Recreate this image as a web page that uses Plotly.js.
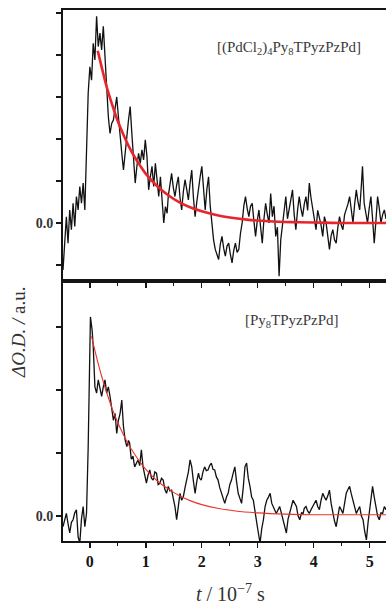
<!DOCTYPE html>
<html>
<head>
<meta charset="utf-8">
<script src="https://cdn.plot.ly/plotly-3.0.1.min.js"></script>
<style>html,body{margin:0;padding:0;background:#fff;overflow:hidden;}#chart{width:386px;height:604px;}</style>
</head>
<body>
<div id="chart"></div>
<script>
// ---- Top panel: [(PdCl2)4Py8TPyzPzPd] ----
var topT = [-0.48,-0.45,-0.42,-0.39,-0.36,-0.33,-0.30,-0.27,-0.24,-0.21,-0.18,-0.15,-0.12,-0.09,-0.06,-0.03,0.00,0.03,0.06,0.09,0.12,0.15,0.18,0.21,0.24,0.27,0.30,0.33,0.36,0.39,0.42,0.45,0.48,0.51,0.54,0.57,0.60,0.63,0.66,0.69,0.72,0.75,0.78,0.81,0.84,0.87,0.90,0.93,0.96,0.99,1.02,1.05,1.08,1.11,1.14,1.17,1.20,1.23,1.26,1.29,1.32,1.35,1.38,
1.40,1.43,1.46,1.49,1.52,1.55,1.58,1.61,1.64,1.67,1.70,1.73,1.76,1.79,1.82,1.85,1.88,1.91,1.94,1.97,2.00,2.03,2.06,2.09,2.12,2.15,2.18,2.21,2.24,2.27,2.30,2.33,2.36,2.39,2.42,2.45,2.48,2.51,2.54,2.57,2.60,2.63,2.66,2.69,2.72,2.75,2.78,2.81,2.84,2.87,2.90,2.93,2.96,2.99,3.02,3.05,3.08,3.11,3.14,3.17,3.20,
3.23,3.26,3.29,3.32,3.35,3.38,3.41,3.44,3.47,3.50,3.53,3.56,3.59,3.62,3.65,3.68,3.71,3.74,3.77,3.80,3.83,3.86,3.89,3.92,3.95,3.98,4.01,4.04,4.07,4.10,4.13,4.16,4.19,4.22,4.25,4.28,4.31,4.34,4.37,4.40,4.43,4.46,4.49,4.52,4.55,4.58,4.61,4.64,4.67,4.70,4.73,4.76,4.79,4.82,4.85,4.87,4.90,4.93,4.96,4.99,5.02,5.05,5.08,5.11,5.14,5.17,5.20,5.23,5.26,5.29,5.32];
var topSignal = [-1.12,-0.32,0.15,-0.48,0.31,-0.16,0.47,-0.08,0.63,0.31,0.87,0.47,0.95,0.31,1.58,3.09,3.72,3.40,4.28,3.88,4.92,4.20,4.52,4.12,4.68,3.96,3.09,2.53,2.13,2.37,2.45,2.77,3.00,2.53,1.98,1.66,1.26,1.74,2.05,2.45,2.77,2.13,1.42,0.95,1.35,1.66,1.42,1.74,1.50,1.98,1.58,0.79,1.10,1.35,0.87,1.42,1.03,0.63,1.10,0.47,0.00,0.39,0.23,
0.63,0.95,1.18,0.85,0.63,0.90,1.10,0.60,0.31,0.75,1.03,0.80,0.55,0.95,1.26,0.60,0.15,0.50,0.87,1.10,1.35,0.70,0.31,0.80,1.10,0.40,-0.08,-0.40,-0.63,-0.75,-0.87,-0.50,-0.32,-0.60,-0.79,-0.55,-0.48,-0.75,-0.95,-0.65,-0.48,-0.70,-0.63,-0.25,0.00,0.40,0.63,0.35,0.15,0.40,0.47,0.05,-0.32,0.05,0.31,-0.10,-0.48,0.10,0.47,0.20,0.00,
0.70,0.15,0.40,-0.32,-0.10,-1.27,-0.40,0.00,0.35,0.63,0.10,0.31,0.55,0.79,0.20,-0.16,0.30,0.63,0.35,0.15,0.45,0.63,0.30,0.95,0.60,0.31,0.05,-0.16,0.30,0.15,-0.05,-0.32,0.15,0.00,-0.35,-0.63,-0.30,-0.16,-0.40,-0.48,-0.10,0.15,-0.05,-0.16,0.20,0.31,0.45,0.63,0.25,0.00,0.45,0.79,0.50,0.31,0.90,1.35,0.47,0.20,0.00,0.35,0.63,0.10,-0.48,0.05,0.63,0.35,0.00,0.20,0.31,0.10,0.25];
var topFitT = [0.14,0.20,0.30,0.40,0.50,0.60,0.70,0.80,0.90,1.00,1.20,1.40,1.60,1.80,2.00,2.20,2.50,2.80,3.20,3.60,4.00,4.50,5.00,5.40];
var topFit = [4.10,3.77,3.24,2.81,2.42,2.10,1.81,1.57,1.36,1.17,0.88,0.66,0.49,0.37,0.28,0.21,0.13,0.08,0.04,0.02,0.01,0.00,0.00,0.00];

// ---- Bottom panel: [Py8TPyzPzPd] ----
var botT = [-0.48,-0.45,-0.42,-0.39,-0.36,-0.33,-0.30,-0.27,-0.24,-0.21,-0.18,-0.15,-0.12,-0.09,-0.06,-0.03,-0.01,0.01,0.04,0.06,0.09,0.12,0.15,0.18,0.21,0.24,0.27,0.30,0.33,0.36,0.39,0.42,0.45,0.48,0.51,0.54,0.57,0.60,0.63,0.66,0.69,0.71,0.74,0.77,0.80,0.83,0.86,0.89,0.92,0.95,0.98,1.01,1.04,1.07,1.10,1.13,1.16,1.19,1.22,1.25,1.28,1.31,1.34,1.37,1.40,1.43,
1.46,1.49,1.52,1.55,1.58,1.61,1.64,1.67,1.70,1.73,1.76,1.79,1.82,1.85,1.88,1.91,1.94,1.96,1.99,2.02,2.05,2.08,2.11,2.14,2.17,2.20,2.23,2.26,2.29,2.32,2.35,2.38,2.41,2.44,2.47,2.50,2.53,2.56,2.59,2.62,2.65,2.68,2.71,2.74,2.77,2.80,2.83,2.86,2.89,2.92,2.95,2.98,3.01,3.04,3.07,3.10,3.13,3.16,3.19,3.22,3.25,3.27,
3.30,3.33,3.36,3.39,3.42,3.45,3.48,3.51,3.54,3.57,3.60,3.63,3.66,3.69,3.72,3.75,3.78,3.81,3.83,3.86,3.89,3.92,3.95,3.98,4.01,4.04,4.07,4.10,4.13,4.16,4.19,4.22,4.25,4.28,4.31,4.34,4.37,4.40,4.43,4.46,4.49,4.52,4.55,4.58,4.61,4.64,4.67,4.70,4.73,4.76,4.79,4.82,4.85,4.88,4.91,4.94,4.97,4.99,5.02,5.05,5.08,5.11,5.14,5.17,5.20,5.23,5.26,5.29,5.32];
var botSignal = [-0.17,-0.05,0.04,-0.12,-0.27,-0.10,-0.06,0.05,0.10,-0.33,-0.43,-0.05,0.15,-0.17,0.04,1.10,2.16,3.16,2.95,2.69,2.05,1.95,2.16,2.00,1.90,2.05,2.16,1.95,2.05,1.90,1.74,1.52,1.63,1.31,1.52,1.63,1.84,1.42,1.21,1.10,1.20,1.16,0.90,0.95,0.78,0.85,0.89,0.80,1.05,0.78,0.62,0.52,0.65,0.73,0.60,0.57,0.70,0.68,0.50,0.52,0.60,0.57,0.42,0.36,0.47,0.40,
0.41,0.30,0.15,-0.06,0.20,0.36,0.25,0.31,0.45,0.57,0.70,0.89,0.78,0.55,0.36,0.55,0.68,0.60,0.57,0.70,0.78,0.72,0.73,0.80,0.84,0.74,0.73,0.62,0.57,0.45,0.36,0.28,0.20,0.30,0.36,0.50,0.57,0.68,0.78,0.55,0.36,0.28,0.20,0.45,0.78,0.84,0.60,0.47,0.30,0.25,0.04,-0.10,-0.27,-0.43,-0.20,-0.06,0.15,0.25,0.30,0.36,0.20,0.15,
0.10,0.04,0.10,0.15,0.05,-0.06,-0.15,-0.27,-0.05,0.04,0.15,0.25,0.20,0.15,0.00,-0.06,0.05,0.04,0.12,0.15,0.08,0.04,0.10,0.15,0.22,0.25,0.15,0.10,0.25,0.36,0.30,0.25,0.32,0.41,0.20,0.04,-0.08,-0.17,0.00,0.15,0.10,0.04,0.20,0.36,0.42,0.47,0.35,0.25,0.12,0.04,0.10,0.15,0.00,-0.06,-0.25,-0.38,-0.10,0.04,0.25,0.47,0.30,0.15,0.00,-0.06,0.05,0.04,0.15,0.10,0.20];
var botFitT = [0.03,0.10,0.20,0.30,0.40,0.50,0.60,0.70,0.80,0.90,1.00,1.20,1.40,1.60,1.80,2.00,2.30,2.60,3.00,3.50,4.00,4.50,5.00,5.40];
var botFit = [2.85,2.59,2.25,1.96,1.70,1.48,1.29,1.12,0.98,0.85,0.74,0.56,0.43,0.32,0.24,0.18,0.12,0.08,0.05,0.03,0.02,0.02,0.02,0.02];

var xTickVals = [0,1,2,3,4,5];
var xTickText = ['<b>0</b>','<b>1</b>','<b>2</b>','<b>3</b>','<b>4</b>','<b>5</b>'];
var yTickVals = [0];
var yTickText = ['<b>0.0</b>'];

var serif = '"Liberation Serif", "Times New Roman", serif';
var ink = '#151515';

var traces = [
  {x: topT, y: topSignal, xaxis:'x', yaxis:'y', mode:'lines', line:{color:'#111', width:1.3}, hoverinfo:'skip'},
  {x: topFitT, y: topFit, xaxis:'x', yaxis:'y', mode:'lines', line:{color:'#e8242c', width:2.6, shape:'spline'}, hoverinfo:'skip'},
  {x: botT, y: botSignal, xaxis:'x2', yaxis:'y2', mode:'lines', line:{color:'#111', width:1.3}, hoverinfo:'skip'},
  {x: botFitT, y: botFit, xaxis:'x2', yaxis:'y2', mode:'lines', line:{color:'#e8342c', width:1.1, shape:'spline'}, hoverinfo:'skip'}
];

var split = 260/531;
var xCommon = {range:[-0.48,5.29], showgrid:false, zeroline:false, showline:true, linecolor:ink, linewidth:2,
  tickmode:'array', tickvals:xTickVals, ticks:'outside', ticklen:5, tickwidth:1.3, tickcolor:ink,
  minor:{tickmode:'linear', dtick:0.5, tick0:0, ticks:'outside', ticklen:3, tickwidth:1, tickcolor:ink, showgrid:false}};
var yCommon = {showgrid:false, zeroline:false, showline:true, linecolor:ink, linewidth:2,
  tickmode:'array', tickvals:yTickVals, ticktext:yTickText,
  ticks:'outside', ticklen:5, tickwidth:1.3, tickcolor:ink, tickfont:{family:serif, size:14, color:'#333'},
  minor:{tickmode:'linear', tick0:0, dtick:1, ticks:'outside', ticklen:5, tickwidth:1.3, tickcolor:ink, showgrid:false}};

var layout = {
  width:386, height:604,
  margin:{l:63, r:0, t:10, b:63},
  paper_bgcolor:'#fff', plot_bgcolor:'#fff',
  showlegend:false,
  xaxis: Object.assign({}, xCommon, {anchor:'y', domain:[0,1], showticklabels:false, mirror:true}),
  xaxis2: Object.assign({}, xCommon, {anchor:'y2', domain:[0,1], mirror:true, ticktext:xTickText,
    tickfont:{family:serif, size:16, color:ink}}),
  yaxis: Object.assign({}, yCommon, {anchor:'x', domain:[split,1], range:[-1.381,5.07]}),
  yaxis2: Object.assign({}, yCommon, {anchor:'x2', domain:[0,split], range:[-0.397,3.73]}),
  annotations:[
    {xref:'paper', yref:'paper', x:0.70, y:0.928, xanchor:'center', yanchor:'middle', showarrow:false,
     text:'[(PdCl<sub>2</sub>)<sub>4</sub>Py<sub>8</sub>TPyzPzPd]', font:{family:serif, size:15, color:'#3a3a3a'}},
    {xref:'paper', yref:'paper', x:0.709, y:0.414, xanchor:'center', yanchor:'middle', showarrow:false,
     text:'[Py<sub>8</sub>TPyzPzPd]', font:{family:serif, size:15, color:'#3a3a3a'}},
    {xref:'paper', yref:'paper', x:-0.136, y:0.392, xanchor:'center', yanchor:'middle', showarrow:false, textangle:-90,
     text:'<i>ΔO.D. /</i> a.u.', font:{family:serif, size:19, color:'#333'}},
    {xref:'paper', yref:'paper', x:0.52, y:-0.098, xanchor:'center', yanchor:'middle', showarrow:false,
     text:'<i>t</i> / 10<sup>−7</sup> s', font:{family:serif, size:20, color:'#333'}}
  ]
};

Plotly.newPlot('chart', traces, layout, {staticPlot:true, displayModeBar:false});
</script>
</body>
</html>
